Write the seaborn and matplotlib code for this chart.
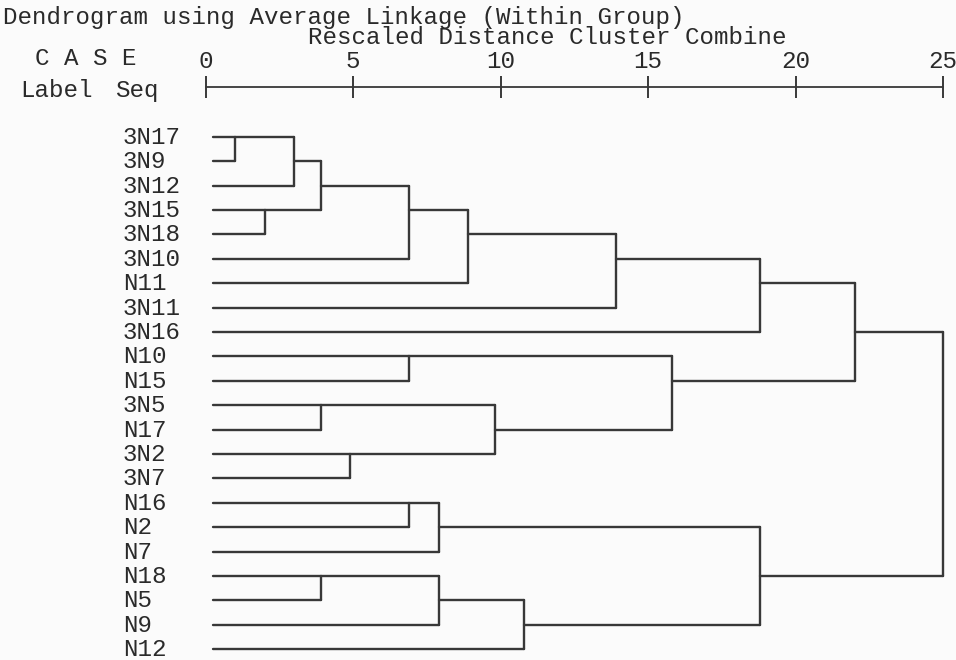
import numpy as np
import pandas as pd
import matplotlib
matplotlib.use("Agg")
import matplotlib.pyplot as plt
import seaborn as sns

# ---- data -------------------------------------------------------------
title = "Dendrogram using Average Linkage (Within Group)"
scale_title = "Rescaled Distance Cluster Combine"
case_labels = ["3N17", "3N9", "3N12", "3N15", "3N18", "3N10", "N11", "3N11",
               "3N16", "N10", "N15", "3N5", "N17", "3N2", "3N7", "N16", "N2",
               "N7", "N18", "N5", "N9", "N12"]
# agglomeration schedule: clusters numbered after the 22 cases (22, 23, ...)
merge_left = [0, 3, 22, 24, 11, 18, 13, 25, 9, 15, 31, 27, 29, 26, 33, 34,
              30, 37, 32, 39, 41]
merge_right = [1, 4, 2, 23, 12, 19, 14, 5, 10, 16, 17, 20, 6, 28, 21, 7,
               35, 8, 36, 38, 40]
merge_dist = [1.0, 2.0, 3.0, 3.9, 3.9, 3.9, 4.9, 6.9, 6.9, 6.9, 7.9, 7.9,
              8.9, 9.8, 10.8, 13.9, 15.8, 18.8, 18.8, 22.0, 25.0]
scale_ticks = [0, 5, 10, 15, 20, 25]

# ---- page geometry (pixels) -------------------------------------------
W, H = 956, 660
X0, SX = 205.7, 29.5      # x pixel of distance 0, pixels per unit
Y0, SY = 136.7, 24.41     # y pixel of first case row, pixels per row
AXIS_Y = 87.3
LEAF_START = 0.25
INK = "#2a2a2a"
LINE = "#383838"
FONT = ["Liberation Mono", "DejaVu Sans Mono"]
FS = 17.4

sns.set_theme(style="white")
plt.rcParams["font.family"] = FONT

# ---- build the tree segments from the schedule -------------------------
n = len(case_labels)
row = {i: i for i in range(n)}
xpos = {i: LEAF_START for i in range(n)}
recs = []
seg = 0
for k, (a, b, d) in enumerate(zip(merge_left, merge_right, merge_dist)):
    for c in (a, b):
        recs += [(seg, xpos[c], row[c]), (seg, d, row[c])]
        seg += 1
    r0, r1 = sorted((row[a], row[b]))
    recs += [(seg, d, r0), (seg, d, r1)]
    seg += 1
    row[n + k] = (r0 + r1) // 2
    xpos[n + k] = d
segs = pd.DataFrame(recs, columns=["seg", "dist", "row"])

fig = plt.figure(figsize=(W / 100, H / 100), dpi=100)
fig.patch.set_facecolor("#fbfbfb")
ax = fig.add_axes([0, 0, 1, 1])
ax.set_facecolor("none")

sns.lineplot(data=segs, x="dist", y="row", units="seg", estimator=None,
             sort=False, color=LINE, linewidth=1.7, legend=False, ax=ax,
             clip_on=False)

ax.set_xlim(-X0 / SX, (W - X0) / SX)
ax.set_ylim((H - Y0) / SY, -Y0 / SY)
ax.set_xlabel("")
ax.set_ylabel("")

# rescaled distance scale along the top
for side in ("left", "right", "bottom"):
    ax.spines[side].set_visible(False)
top = ax.spines["top"]
top.set_position(("data", (AXIS_Y - Y0) / SY))
top.set_bounds(scale_ticks[0], scale_ticks[-1])
top.set_color(LINE)
top.set_linewidth(1.3)
ax.xaxis.set_ticks_position("top")
ax.set_xticks(scale_ticks)
ax.set_xticklabels([str(t) for t in scale_ticks])
ax.tick_params(axis="x", direction="inout", length=16, width=1.3,
               pad=2.5, labelsize=FS, colors=INK)
ax.set_yticks([])

# case labels
for i, lab in enumerate(case_labels):
    ax.text((123 - X0) / SX, i + 7.0 / SY, lab, fontsize=FS, color=INK,
            ha="left", va="baseline", family=FONT)


def page_text(px, py, s):
    fig.text(px / W, 1 - py / H, s, fontsize=FS, color=INK,
             ha="left", va="baseline", family=FONT)


page_text(3, 24, title)
page_text(308, 44.5, scale_title)
page_text(35, 65, "C A S E")
page_text(20, 96.7, "Label")
page_text(115, 96.7, "Seq")

fig.savefig("out.png", dpi=100, facecolor=fig.get_facecolor())
